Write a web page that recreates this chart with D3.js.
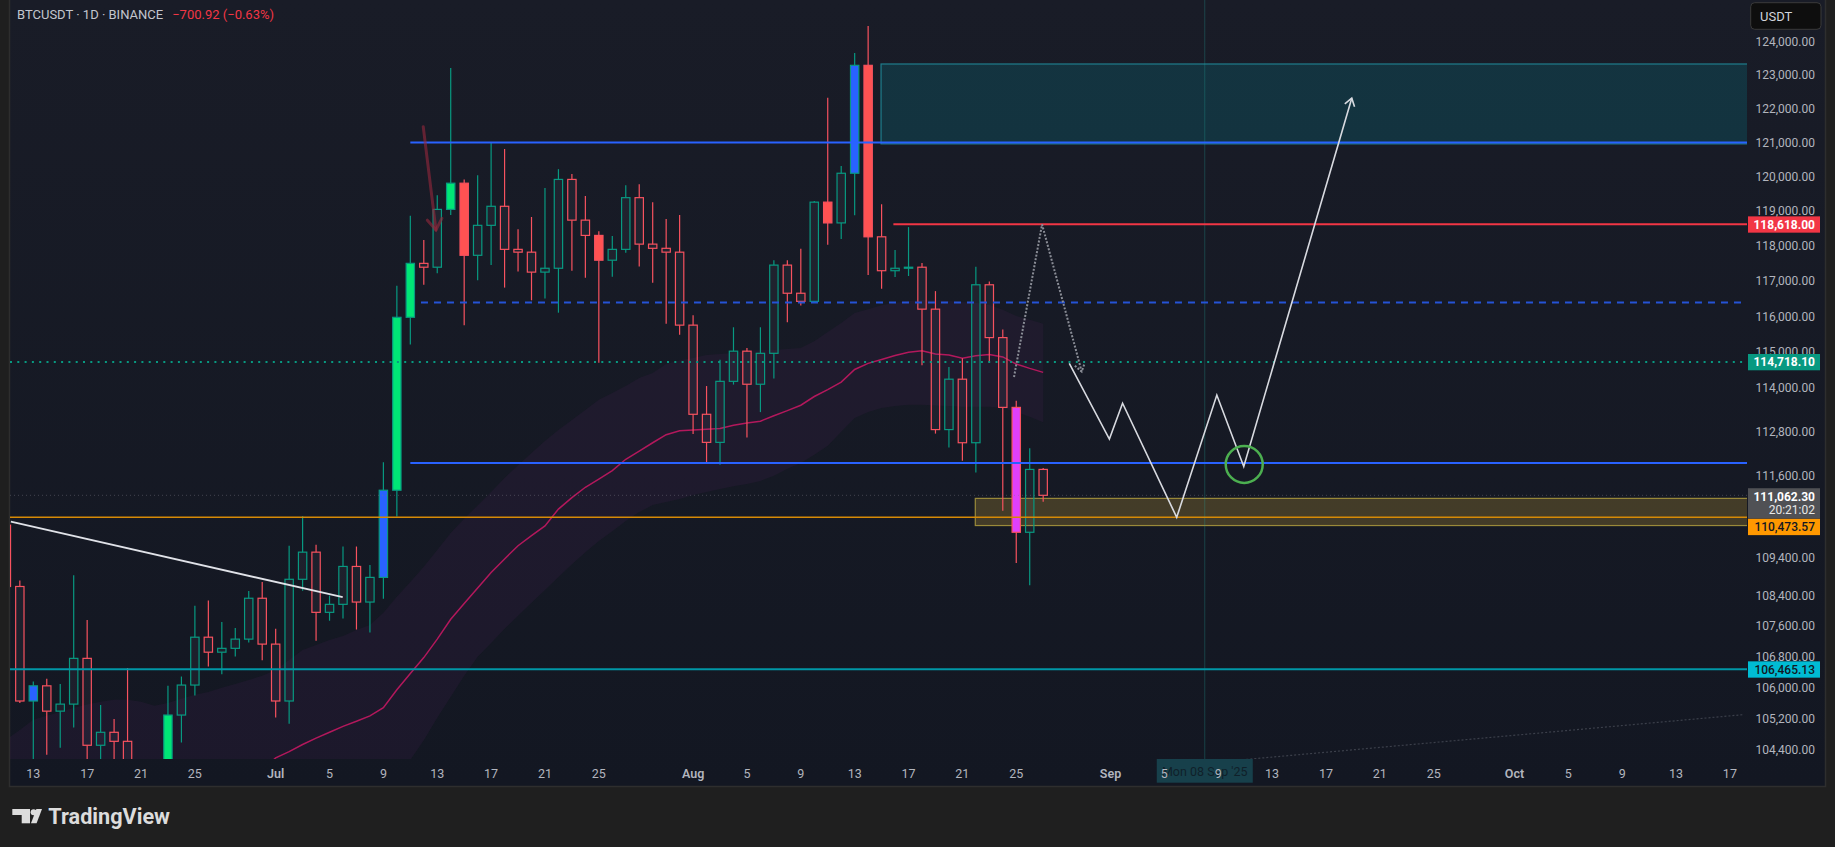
<!DOCTYPE html>
<html><head><meta charset="utf-8">
<script src="https://cdn.jsdelivr.net/npm/d3@7"></script>
<style>html,body{margin:0;padding:0;background:#1f1f1f;overflow:hidden}svg{display:block}</style>
</head><body><svg id="c" width="1835" height="847"></svg>
<script>
// ---------------- DATA ----------------
const symbolTitle = "BTCUSDT · 1D · BINANCE";
const changeText = "−700.92 (−0.63%)";
const firstDay = "2025-06-11";
const open  = [110260,108630,105650,106040,105390,105570,106750,104520,104850,104620,103300,102120,100960,105290,106060,107300,106910,107010,107250,108320,
  107120,105650,108820,109540,107950,108160,109160,108220,108870,111200,115970,117500,117390,119050,119810,117730,118590,119140,117900,117820,117250,117360,119920,118740,118300,117590,117900,119390,118050,117930,117820,
  115750,113270,112500,114180,115020,114100,114960,117450,116650,116420,119260,118660,120100,123290,118260,117290,117360,117390,116200,112850,114240,112490,116890,115400,113460,110070,111763.22];
const high  = [110400,108790,106150,106220,106090,108930,107750,105550,105190,106500,104000,103400,106040,106280,108120,108260,107700,107540,108510,108750,
  107520,109710,110500,109740,108390,109690,109690,109200,111960,116860,118870,118170,119460,123210,119920,120040,120990,120810,118480,118830,119670,120220,120080,119440,118420,118280,119750,119780,119260,118770,118890,
  116030,114050,114780,115690,115110,115690,117590,117590,117920,119290,122320,120310,123660,124470,119200,117880,118540,117510,116710,114580,114820,117400,116980,115630,113640,112340,111800];
const low   = [108330,105600,102660,104280,104460,104970,103400,103500,103900,102350,100840,98200,99590,104590,105790,106540,106340,106800,107160,106700,
  105230,105070,108520,107210,107730,107790,107500,107420,108310,110490,115210,116890,117220,118890,115750,117020,117450,116810,117270,116450,116500,116100,117290,117090,114700,117120,117800,117410,116950,115790,115480,
  112730,111960,111890,114090,112630,113330,114260,115830,116300,116400,118030,118200,118880,117170,116780,117110,117140,114630,112740,112360,112000,111680,114720,110650,109250,108660,110890];
const close = [108630,105650,106040,105390,105570,106750,104520,104850,104620,103300,102120,100960,105290,106060,107300,106910,107010,107250,108320,107120,
  105650,108820,109540,107950,108160,109160,108220,108870,111200,115970,117500,117390,119050,119810,117730,118590,119140,117900,117820,117250,117360,119920,118740,118300,117590,117900,119390,118050,117930,117820,115750,
  113270,112500,114180,115020,114100,114960,117450,116650,116420,119260,118660,120100,123290,118260,117290,117360,117390,116200,112850,114240,112490,116890,115400,113460,110070,111763.22,111062.30];
// highlighted bars (bar-color indicator signals)
const signalDates = ["2025-06-13","2025-06-23","2025-07-09","2025-07-10","2025-07-11","2025-07-14","2025-07-15","2025-07-25","2025-08-11","2025-08-13","2025-08-14","2025-08-25"];
const signalTypes = ["up2","up1","up2","up1","up1","up1","dn1","dn1","dn1","up2","dn1","dn2"];
// channel indicator (upper / basis / lower), one value per bar
const bandUpper = [104660,104910,105170,105270,105370,105480,105560,105630,105680,105680,105630,105530,105600,105710,105810,105880,105990,106090,106190,106300,
  106450,106710,106970,107100,107230,107330,107490,107620,107940,108360,108750,109150,109600,110050,110430,110790,111150,111530,111880,112210,112540,112840,113110,113390,113670,113860,114050,114270,114410,114660,114770,
  114830,114910,114940,114970,115030,115050,115050,115080,115110,115300,115560,115810,116090,116200,116310,116380,116430,116460,116460,116430,116400,116380,116320,116180,116010,115900,115790];
const bandMid = [101900,101950,102000,102050,102100,102150,102250,102300,102350,102400,102450,102500,102600,102700,102850,103000,103200,103400,103650,103900,
  104200,104360,104540,104700,104850,105000,105130,105270,105480,105940,106360,106770,107250,107770,108180,108590,109000,109360,109710,109980,110240,110690,111000,111280,111500,111730,112040,112260,112490,112710,112820,
  112840,112860,112880,112970,113030,113080,113230,113370,113520,113760,113950,114160,114510,114680,114790,114900,114990,115030,114940,114910,114820,114890,114930,114860,114660,114540,114430];
const bandLower = [99000,98900,98800,98800,98900,99000,99100,99200,99300,99300,99200,99200,99400,99600,99900,100200,100500,100800,101100,101400,
  101700,101900,102100,102300,102500,102600,102750,102900,103150,103650,104150,104650,105220,105760,106300,106790,107150,107520,107860,108200,108540,108880,109220,109540,109840,110100,110370,110610,110800,110880,110960,
  111070,111150,111230,111310,111370,111450,111590,111780,111940,112160,112410,112790,113170,113330,113440,113500,113530,113530,113510,113500,113480,113480,113480,113440,113330,113200,113050];
// axis ticks
const yTicks = [124000,123000,122000,121000,120000,119000,118000,117000,116000,115000,114000,112800,111600,109400,108400,107600,106800,106000,105200,104400];
const xTicks = ["2025-06-13","2025-06-17","2025-06-21","2025-06-25","2025-07-01","2025-07-05","2025-07-09","2025-07-13","2025-07-17","2025-07-21","2025-07-25",
  "2025-08-01","2025-08-05","2025-08-09","2025-08-13","2025-08-17","2025-08-21","2025-08-25","2025-09-01","2025-09-05","2025-09-09","2025-09-13","2025-09-17",
  "2025-09-21","2025-09-25","2025-10-01","2025-10-05","2025-10-09","2025-10-13","2025-10-17"];
// horizontal levels (price, start time or null = full width, kind)
const levelPrices = [121000, 111940, 116390, 118618, 114718.10, 111062.30, 110473.57, 106465.13];
const levelStarts = ["2025-07-11T00:00","2025-07-11T00:00","2025-07-11T19:00","2025-08-15T21:00", null, null, null, null];
const levelKinds  = ["blue","blue","blueDash","red","tealDot","lastDot","orange","cyan"];
// zones
const supplyZone = ["2025-08-14T23:00", 123330, 120960];
const demandZone = ["2025-08-21T23:00", 110980, 110250];
// drawings
const trendTimes = ["2025-06-11T08:00","2025-07-05T23:30"];
const trendPrices = [110354, 108347];
const faintTimes = ["2025-08-27T00:00","2025-10-18T00:00"];
const faintPrices = [103700, 105300];
const markerArrowTimes = ["2025-07-11T23:00","2025-07-12T21:40"];
const markerArrowPrices = [121466, 118457];
const dottedTimes = ["2025-08-24T20:00","2025-08-26T22:00","2025-08-29T20:40"];
const dottedPrices = [114300, 118618, 114450];
const projTimes = ["2025-08-28T22:30","2025-08-31T22:00","2025-09-01T21:30","2025-09-05T22:00","2025-09-08T21:30","2025-09-10T21:30","2025-09-18T22:00"];
const projPrices = [114680, 112590, 113575, 110470, 113800, 111840, 122310];
const circleTime = "2025-09-10T22:20", circlePrice = 111900;
const crosshairTime = "2025-09-08T00:00";
const crosshairLabel = "Mon 08 Sep '25";
const lastPrice = 111062.30, countdown = "20:21:02";
const axisLabelPrices = [118618.00, 114718.10, 110473.57, 106465.13];
const axisLabelKinds  = ["red","teal","orange","cyan"];

// ---------------- RENDER ----------------
const W = 1835, H = 847;
const plotL = 10, plotR = 1747, plotB = 759, axisB = 786, panelR = 1825;
const FONT = "Roboto, 'Liberation Sans', 'DejaVu Sans', sans-serif";
const T = s => new Date((s.length === 10 ? s + "T00:00" : s) + ":00Z");

const x = d3.scaleUtc().domain([T("2025-06-13"), T("2025-10-17")]).range([33.3, 1729.9]);
const y = d3.scaleLog().domain([104172, 125262]).range([plotB, 0]);

const days = d3.utcDay.range(T(firstDay), d3.utcDay.offset(T(firstDay), open.length));
const spacing = x(T("2025-06-14")) - x(T("2025-06-13"));
const bw = spacing * 0.62;

const svg = d3.select("#c");
const defs = svg.append("defs");
const grad = defs.append("linearGradient").attr("id", "bg").attr("x1", 0).attr("y1", 0).attr("x2", 0).attr("y2", 1);
grad.append("stop").attr("offset", "0%").attr("stop-color", "#191c27");
grad.append("stop").attr("offset", "100%").attr("stop-color", "#131722");
defs.append("clipPath").attr("id", "plotClip").append("rect")
  .attr("x", plotL).attr("y", 0).attr("width", plotR - plotL).attr("height", plotB);

svg.append("rect").attr("width", W).attr("height", H).attr("fill", "#1f1f1f");
svg.append("rect").attr("x", plotL).attr("y", 0).attr("width", panelR - plotL).attr("height", axisB).attr("fill", "url(#bg)");
svg.append("path").attr("d", `M${plotL-0.5},0V${axisB+0.5}H${panelR+0.5}V0`).attr("fill", "none").attr("stroke", "#2e2e2e").attr("stroke-width", 1.5);

const plot = svg.append("g").attr("clip-path", "url(#plotClip)");

// indicator band
const bandData = days.map((d, i) => ({ d, u: bandUpper[i], m: bandMid[i], l: bandLower[i] }));
plot.append("path").datum(bandData)
  .attr("d", d3.area().x(p => x(p.d)).y0(p => y(p.l)).y1(p => y(p.u)))
  .attr("fill", "rgba(110,40,120,0.11)");
plot.append("path").datum(bandData)
  .attr("d", d3.line().x(p => x(p.d)).y(p => y(p.m)))
  .attr("fill", "none").attr("stroke", "#b3185c").attr("stroke-width", 1.5);

// zones
function zone(z, fill, stroke) {
  plot.append("rect").attr("x", x(T(z[0]))).attr("y", y(z[1])).attr("width", plotR - x(T(z[0])) + 2)
    .attr("height", y(z[2]) - y(z[1])).attr("fill", fill).attr("stroke", stroke).attr("stroke-width", 1.2);
}
zone(supplyZone, "rgba(0,151,167,0.2)", "#1f7d8c");
zone(demandZone, "rgba(255,200,60,0.2)", "#9a8a3a");

// crosshair vertical
plot.append("line").attr("x1", x(T(crosshairTime))).attr("x2", x(T(crosshairTime)))
  .attr("y1", 0).attr("y2", plotB).attr("stroke", "rgba(38,166,154,0.3)").attr("stroke-width", 1);

// faint dotted line
plot.append("line").attr("x1", x(T(faintTimes[0]))).attr("y1", y(faintPrices[0]))
  .attr("x2", x(T(faintTimes[1]))).attr("y2", y(faintPrices[1]))
  .attr("stroke", "#3b3f4a").attr("stroke-width", 1.2).attr("stroke-dasharray", "2,2");

// candles
const TEAL = "#089981", RED = "#f7525f";
const sigFill = { up1: "#00e676", up2: "#2962ff", dn1: "#ff5252", dn2: "#e040fb" };
const sigMap = new Map(signalDates.map((d, i) => [d, signalTypes[i]]));
const fmtDay = d3.utcFormat("%Y-%m-%d");
const cg = plot.append("g");
days.forEach((d, i) => {
  const o = open[i], h = high[i], l = low[i], c = close[i];
  const up = c >= o;
  const col = up ? TEAL : RED;
  const cx = x(d);
  const top = y(Math.max(o, c)), bot = y(Math.min(o, c));
  const bh = Math.max(bot - top, 1);
  const sig = sigMap.get(fmtDay(d));
  cg.append("line").attr("x1", cx).attr("x2", cx).attr("y1", y(h)).attr("y2", top).attr("stroke", col).attr("stroke-width", 1.2);
  cg.append("line").attr("x1", cx).attr("x2", cx).attr("y1", top + bh).attr("y2", y(l)).attr("stroke", col).attr("stroke-width", 1.2);
  cg.append("rect").attr("x", cx - bw / 2).attr("y", top).attr("width", bw).attr("height", bh)
    .attr("fill", sig ? sigFill[sig] : "rgba(120,125,140,0.09)")
    .attr("stroke", col).attr("stroke-width", 1.2);
});

// horizontal levels
const levelStyle = {
  blue: { c: "#2962ff", w: 2, dash: null },
  blueDash: { c: "#2553d6", w: 2, dash: "7,6" },
  red: { c: "#f23645", w: 2, dash: null },
  tealDot: { c: "#089981", w: 2, dash: "2,5.3" },
  lastDot: { c: "rgba(120,123,134,0.45)", w: 1, dash: "1,3" },
  orange: { c: "#d68a06", w: 1.5, dash: null },
  cyan: { c: "#0097a7", w: 2, dash: null }
};
levelPrices.forEach((p, i) => {
  const s = levelStyle[levelKinds[i]];
  const x0 = levelStarts[i] ? x(T(levelStarts[i])) : plotL;
  plot.append("line").attr("x1", x0).attr("x2", plotR).attr("y1", y(p)).attr("y2", y(p))
    .attr("stroke", s.c).attr("stroke-width", s.w).attr("stroke-dasharray", s.dash);
});

// white trend line
plot.append("line").attr("x1", x(T(trendTimes[0]))).attr("y1", y(trendPrices[0]))
  .attr("x2", x(T(trendTimes[1]))).attr("y2", y(trendPrices[1]))
  .attr("stroke", "#e0e2e8").attr("stroke-width", 1.8);

function chevron(g, a, b, len, attrs) {
  const ang = Math.atan2(b[1] - a[1], b[0] - a[0]);
  const pts = [-1, 1].map(s => [b[0] - len * Math.cos(ang + s * 0.6), b[1] - len * Math.sin(ang + s * 0.6)]);
  const p = g.append("path").attr("d", `M${pts[0]}L${b}L${pts[1]}`).attr("fill", "none");
  Object.entries(attrs).forEach(([k, v]) => p.attr(k, v));
}

// dark red marker arrow
{
  const a = [x(T(markerArrowTimes[0])), y(markerArrowPrices[0])], b = [x(T(markerArrowTimes[1])), y(markerArrowPrices[1])];
  const st = { stroke: "rgba(150,40,60,0.6)", "stroke-width": 3, "stroke-linecap": "round" };
  const l = plot.append("line").attr("x1", a[0]).attr("y1", a[1]).attr("x2", b[0]).attr("y2", b[1]);
  Object.entries(st).forEach(([k, v]) => l.attr(k, v));
  chevron(plot, a, b, 13, st);
}

// dotted path arrow
{
  const pts = dottedTimes.map((t, i) => [x(T(t)), y(dottedPrices[i])]);
  const st = { stroke: "#8a8d96", "stroke-width": 2, "stroke-dasharray": "2,1.6" };
  const p = plot.append("path").attr("d", d3.line()(pts)).attr("fill", "none");
  Object.entries(st).forEach(([k, v]) => p.attr(k, v));
  chevron(plot, pts[1], pts[2], 9, st);
}

// projection path
{
  const pts = projTimes.map((t, i) => [x(T(t)), y(projPrices[i])]);
  plot.append("path").attr("d", d3.line()(pts)).attr("fill", "none")
    .attr("stroke", "#d8dae0").attr("stroke-width", 1.6).attr("stroke-linejoin", "miter");
  chevron(plot, pts[5], pts[6], 9, { stroke: "#d8dae0", "stroke-width": 1.6 });
}
plot.append("circle").attr("cx", x(T(circleTime))).attr("cy", y(circlePrice)).attr("r", 18.5)
  .attr("fill", "none").attr("stroke", "#4caf50").attr("stroke-width", 2.5);

// ---------- price axis ----------
const fmtP = d3.format(",.2f");
const ax = svg.append("g").attr("font-family", FONT);
yTicks.forEach(v => {
  ax.append("text").attr("x", 1815).attr("y", y(v) + 4.3).attr("text-anchor", "end")
    .attr("font-size", 12).attr("fill", "#b2b5be").text(fmtP(v));
});
const lblStyle = { red: ["#f23645", "#ffffff"], teal: ["#089981", "#ffffff"], orange: ["#ff9800", "#131722"], cyan: ["#00bcd4", "#131722"] };
// last price box
const lpTop = y(lastPrice) - 7.1;
ax.append("rect").attr("x", 1748).attr("y", lpTop).attr("width", 72).attr("height", 30.4).attr("fill", "#505155");
ax.append("text").attr("x", 1815).attr("y", lpTop + 12.3).attr("text-anchor", "end").attr("font-size", 12)
  .attr("font-weight", 700).attr("fill", "#ffffff").text(fmtP(lastPrice));
ax.append("text").attr("x", 1815).attr("y", lpTop + 26).attr("text-anchor", "end").attr("font-size", 12)
  .attr("fill", "#e8e8e8").text(countdown);
axisLabelPrices.forEach((p, i) => {
  const [bg, fg] = lblStyle[axisLabelKinds[i]];
  let top = y(p) - 8;
  if (top < lpTop + 30.4 && top + 16 > lpTop) top = lpTop + 30.6;
  ax.append("rect").attr("x", 1748).attr("y", top).attr("width", 72).attr("height", 16.3).attr("fill", bg);
  ax.append("text").attr("x", 1815).attr("y", top + 12.3).attr("text-anchor", "end").attr("font-size", 12)
    .attr("font-weight", fg === "#ffffff" ? 700 : 500).attr("fill", fg).text(fmtP(p));
});
// USDT box
ax.append("rect").attr("x", 1750.7).attr("y", 2.7).attr("width", 70.3).attr("height", 26.6).attr("rx", 4)
  .attr("fill", "#0e0e0e").attr("stroke", "#3a3a3a").attr("stroke-width", 1);
ax.append("text").attr("x", 1760).attr("y", 20.5).attr("font-size", 13).attr("fill", "#d1d4dc").text("USDT");

// ---------- time axis ----------
const chX = x(T(crosshairTime));
ax.append("rect").attr("x", chX - 48).attr("y", 759).attr("width", 96).attr("height", 23.7).attr("fill", "#17404b");
ax.append("text").attr("x", chX).attr("y", 776).attr("text-anchor", "middle").attr("font-size", 12.5)
  .attr("fill", "#10202a").text(crosshairLabel);
const fmtMon = d3.utcFormat("%b"), fmtD = d3.utcFormat("%-d");
xTicks.forEach(s => {
  const d = T(s);
  const isMon = d.getUTCDate() === 1;
  ax.append("text").attr("x", x(d)).attr("y", 777.5).attr("text-anchor", "middle").attr("font-size", 12.5)
    .attr("font-weight", isMon ? 600 : 400).attr("fill", "#b2b5be").text(isMon ? fmtMon(d) : fmtD(d));
});

// ---------- title ----------
const tt = svg.append("text").attr("x", 17).attr("y", 18.5).attr("font-family", FONT).attr("font-size", 13);
tt.append("tspan").attr("fill", "#c3c6ce").text(symbolTitle);
tt.append("tspan").attr("dx", 9).attr("fill", "#f23645").text(changeText);

// ---------- TradingView logo ----------
const lg = svg.append("g").attr("fill", "#dcdcdc");
lg.append("rect").attr("x", 12.3).attr("y", 809).attr("width", 17.7).attr("height", 6);
lg.append("rect").attr("x", 21.7).attr("y", 809).attr("width", 8.3).attr("height", 14.3);
lg.append("circle").attr("cx", 33.6).attr("cy", 812.2).attr("r", 3);
lg.append("path").attr("d", "M31,823.3L36.6,823.3L42,809L36.4,809Z");
svg.append("text").attr("x", 48.3).attr("y", 823.8).attr("font-family", FONT).attr("font-size", 21.5)
  .attr("font-weight", 700).attr("fill", "#dcdcdc").attr("textLength", 121.7).attr("lengthAdjust", "spacingAndGlyphs")
  .text("TradingView");
</script></body></html>
